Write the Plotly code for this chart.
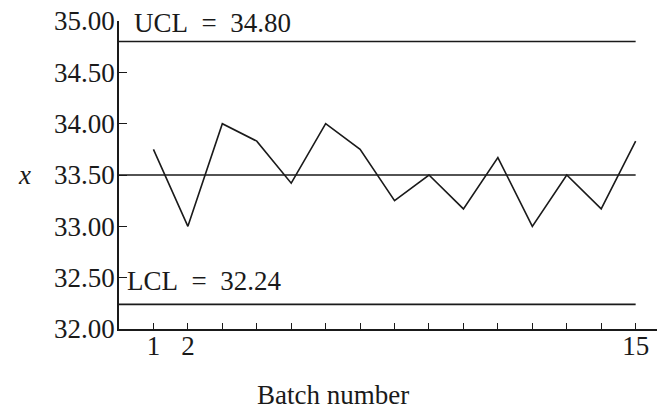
import plotly.graph_objects as go

# Batch means for the control chart
batches = list(range(1, 16))
batch_means = [33.75, 33.00, 34.00, 33.83, 33.42, 34.00, 33.75, 33.25,
               33.50, 33.17, 33.67, 33.00, 33.50, 33.17, 33.83]

# Control limits and centre line
ucl = 34.80
centre = 33.50
lcl = 32.24

y_ticks = [32.0, 32.5, 33.0, 33.5, 34.0, 34.5, 35.0]
y_tick_text = ["32.00", "32.50", "33.00", "33.50", "34.00", "34.50", "35.00"]
x_ticks = batches
x_tick_text = ["1", "2"] + [""] * 12 + ["15"]

FONT = "Liberation Serif"
INK = "#1a1a1a"
SP = "\u2002"  # wider gap around "=" as in typeset math

fig = go.Figure()

line_style = dict(color=INK, width=1.6)
for level in (ucl, centre, lcl):
    fig.add_trace(go.Scatter(x=[0, batches[-1]], y=[level, level], mode="lines",
                             line=line_style, hoverinfo="skip", showlegend=False))

fig.add_trace(go.Scatter(x=batches, y=batch_means, mode="lines",
                         line=dict(color=INK, width=1.6), showlegend=False))

fig.add_annotation(x=0, y=ucl, xref="x", yref="y", text=f"UCL{SP}={SP}{ucl:.2f}",
                   showarrow=False, xanchor="left", yanchor="middle",
                   xshift=13, yshift=19, font=dict(family=FONT, size=27, color=INK))
fig.add_annotation(x=0, y=lcl, xref="x", yref="y", text=f"LCL{SP}={SP}{lcl:.2f}",
                   showarrow=False, xanchor="left", yanchor="middle",
                   xshift=6, yshift=23, font=dict(family=FONT, size=27, color=INK))

fig.add_annotation(x=-0.175, y=0.5, xref="paper", yref="paper", text="<i>x</i>",
                   showarrow=False, xanchor="center", yanchor="middle",
                   font=dict(family=FONT, size=27, color=INK))
fig.add_annotation(x=0.398, y=-0.215, xref="paper", yref="paper", text="Batch number",
                   showarrow=False, xanchor="center", yanchor="middle",
                   font=dict(family=FONT, size=27, color=INK))

fig.update_layout(
    width=657, height=413,
    margin=dict(l=119, r=0, t=21, b=84),
    paper_bgcolor="white", plot_bgcolor="white",
    font=dict(family=FONT, size=27, color=INK),
    xaxis=dict(range=[0, 15.62], tickmode="array", tickvals=x_ticks, ticktext=x_tick_text,
               ticks="inside", ticklen=6, tickwidth=1.3, tickcolor=INK,
               showline=True, linecolor=INK, linewidth=1.8, ticklabelstandoff=-8,
               showgrid=False, zeroline=False, tickfont=dict(family=FONT, size=27)),
    yaxis=dict(range=[32, 35], tickmode="array", tickvals=y_ticks, ticktext=y_tick_text,
               ticks="inside", ticklen=8, tickwidth=1.3, tickcolor=INK,
               showline=True, linecolor=INK, linewidth=1.8, ticklabelstandoff=-3,
               showgrid=False, zeroline=False, tickfont=dict(family=FONT, size=27)),
)

fig.write_html("out.html")
